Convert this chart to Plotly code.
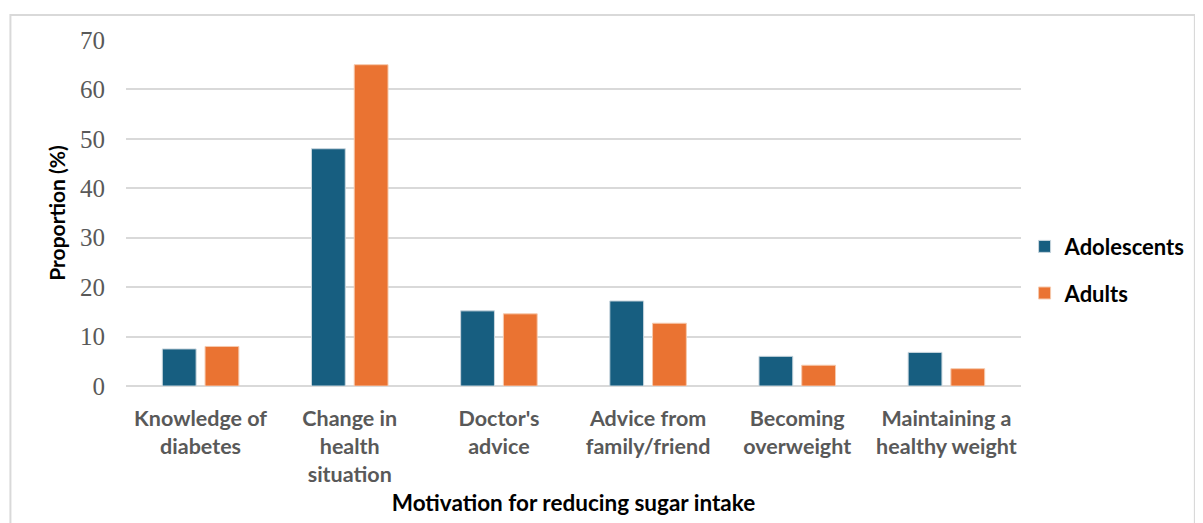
import plotly.graph_objects as go

categories = [
    "Knowledge of<br>diabetes",
    "Change in<br>health<br>situation",
    "Doctor's<br>advice",
    "Advice from<br>family/friend",
    "Becoming<br>overweight",
    "Maintaining a<br>healthy weight",
]
adolescents = [7.5, 48.0, 15.2, 17.2, 6.0, 6.8]
adults = [8.0, 65.0, 14.6, 12.7, 4.2, 3.5]
y_ticks = [0, 10, 20, 30, 40, 50, 60, 70]

# page has an 8px body margin, so the figure is shifted a little
OFF = 8
W, H = 1203 - OFF, 523 - OFF
L, T = 126 - OFF, 40 - OFF
R, B = W - (1032 - OFF), H - (386 - OFF)

fig = go.Figure()
fig.add_trace(go.Bar(
    x=categories, y=adolescents, name="Adolescents", legendgroup="a",
    marker=dict(color="#175e80", line=dict(color="#c9d6de", width=1)),
))
fig.add_trace(go.Bar(
    x=categories, y=adults, name="Adults", legendgroup="b",
    marker=dict(color="#ea7332", line=dict(color="#f6c9ad", width=1)),
))

# light frame around the chart, like the pasted Excel chart
pw, ph = W - L - R, H - T - B
fig.add_shape(
    type="rect", xref="paper", yref="paper",
    x0=(1 - L) / pw, x1=(W + 5 - L) / pw,
    y0=-(H + 5 - T - ph) / ph, y1=(T - (15 - OFF)) / ph + 1,
    line=dict(color="#d9d9d9", width=2), layer="below",
)

fig.update_layout(
    width=W, height=H,
    barmode="group",
    bargap=0.427,
    bargroupgap=0.209,
    plot_bgcolor="white",
    paper_bgcolor="white",
    margin=dict(l=L, r=R, t=T, b=B),
    legend=dict(
        x=1.004, y=0.335, xanchor="left", yanchor="middle",
        font=dict(family="Lato", size=22, color="black", weight="bold"),
        tracegroupgap=15, itemwidth=30,
    ),
    xaxis=dict(
        title=dict(text="Motivation for reducing sugar intake",
                   font=dict(family="Lato", size=22.5, color="black", weight="bold"),
                   standoff=9),
        tickfont=dict(family="Lato", size=21.5, color="#595959", weight="bold"),
        ticks="outside", ticklen=13, tickcolor="rgba(0,0,0,0)",
        showline=False,
    ),
    yaxis=dict(
        title=dict(text="Proportion (%)",
                   font=dict(family="Lato", size=21, color="black", weight="bold"),
                   standoff=8),
        range=[0, 70],
        tickvals=y_ticks,
        tickfont=dict(family="Liberation Serif", size=25, color="#595959"),
        showgrid=True, gridcolor="#d9d9d9", gridwidth=1.5,
        zeroline=True, zerolinecolor="#d9d9d9", zerolinewidth=1.5,
        ticks="outside", ticklen=15, tickcolor="rgba(0,0,0,0)",
    ),
)

fig.write_html("out.html")
